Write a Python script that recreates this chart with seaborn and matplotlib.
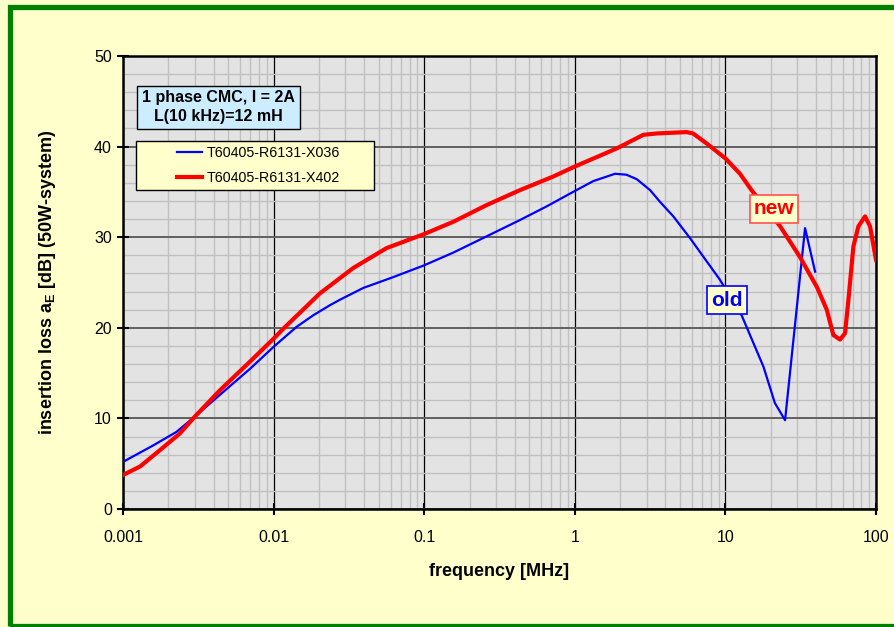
import matplotlib
matplotlib.use('Agg')
import matplotlib.pyplot as plt
from matplotlib.patches import Rectangle
from matplotlib.lines import Line2D
from matplotlib.ticker import LogLocator, MultipleLocator, FixedLocator, NullFormatter
import seaborn as sns
import pandas as pd

# --- DATOS ---
freq_old = [0.001, 0.00158, 0.00226, 0.003, 0.0044, 0.007, 0.01, 0.0142, 0.0184,
            0.0237, 0.0276, 0.0394, 0.0624, 0.1, 0.156, 0.26, 0.433, 0.65, 1.0,
            1.33, 1.85, 2.2, 2.58, 3.16, 3.68, 4.51, 5.82, 9.2, 12.8, 17.9, 21.3,
            24.9, 33.8, 39.4]
loss_old = [5.2, 7.0, 8.5, 10.2, 12.6, 15.5, 17.9, 20.1, 21.4,
            22.5, 23.1, 24.4, 25.6, 26.9, 28.3, 30.1, 31.9, 33.4, 35.1,
            36.2, 37.0, 36.9, 36.4, 35.2, 33.9, 32.3, 29.9, 25.3, 21.4, 15.7, 11.7,
            9.8, 31.0, 26.2]

freq_new = [0.001, 0.0013, 0.00176, 0.00239, 0.003, 0.0044, 0.007, 0.01, 0.0116,
            0.0157, 0.0203, 0.0338, 0.0563, 0.1, 0.156, 0.26, 0.433, 0.72, 1.0,
            1.9, 2.85, 3.5, 5.53, 6.1, 7.5, 10, 12.5, 14.9, 23.1, 31.3, 40.5,
            47.1, 52.1, 57.7, 62.3, 65.6, 70.8, 76.4, 84.6, 91.3, 100]
loss_new = [3.75, 4.7, 6.5, 8.35, 10.2, 13.1, 16.3, 18.8, 19.9,
            22.0, 23.8, 26.6, 28.8, 30.35, 31.7, 33.55, 35.2, 36.7, 37.8,
            39.8, 41.3, 41.45, 41.6, 41.45, 40.35, 38.7, 37.0, 35.2, 31.2, 27.8, 24.5,
            22.0, 19.2, 18.7, 19.4, 23.1, 29.0, 31.2, 32.3, 31.2, 27.5]

label_old = "T60405-R6131-X036"
label_new = "T60405-R6131-X402"
x_ticks = [0.001, 0.01, 0.1, 1, 10, 100]
x_ticklabels = ["0.001", "0.01", "0.1", "1", "10", "100"]
y_ticks = [0, 10, 20, 30, 40, 50]

df_old = pd.DataFrame({'f': freq_old, 'a': loss_old})
df_new = pd.DataFrame({'f': freq_new, 'a': loss_new})

# --- ESTILO ---
plt.rcParams['font.family'] = ['Liberation Sans', 'DejaVu Sans']
plt.rcParams['mathtext.default'] = 'regular'

W, H = 895, 627
fig = plt.figure(figsize=(W / 100, H / 100), dpi=100, facecolor='#FFFFCC')
ax = fig.add_axes([123 / W, 1 - 509 / H, 753 / W, 453 / H])
ax.set_facecolor('#E3E3E3')

# marco verde
fig.patches.append(Rectangle((9.5, 1.5), 900, 618.8, transform=None, fill=False,
                             edgecolor='#008000', linewidth=3.8, zorder=0))

sns.lineplot(data=df_old, x='f', y='a', ax=ax, color='#0000FF', lw=1.6, zorder=5)
sns.lineplot(data=df_new, x='f', y='a', ax=ax, color='#FF0000', lw=3.0, zorder=6)

ax.set_xscale('log')
ax.set_xlim(0.001, 100)
ax.set_ylim(0, 50)
ax.xaxis.set_major_locator(FixedLocator(x_ticks))
ax.set_xticklabels(x_ticklabels)
ax.xaxis.set_minor_locator(LogLocator(base=10, subs=range(2, 10), numticks=50))
ax.xaxis.set_minor_formatter(NullFormatter())
ax.yaxis.set_major_locator(FixedLocator(y_ticks))
ax.yaxis.set_minor_locator(MultipleLocator(2))

ax.grid(which='minor', axis='both', color='#C0C0C0', lw=1.0, zorder=1)
ax.grid(which='major', axis='x', color='#000000', lw=0.9)
ax.grid(which='major', axis='y', color='#606060', lw=1.4)
ax.set_axisbelow(True)

for s in ax.spines.values():
    s.set_linewidth(1.8)
    s.set_color('black')
ax.tick_params(which='major', direction='inout', length=8, width=1.5,
               labelsize=11.5, colors='black')
ax.tick_params(axis='x', which='major', pad=11)
ax.tick_params(axis='y', which='major', pad=4)
ax.tick_params(which='minor', length=0)

ax.set_xlabel("frequency [MHz]", fontsize=13, fontweight='bold', labelpad=13)
ax.set_ylabel("insertion loss a$_{E}$ [dB] (50W-system)", fontsize=13,
              fontweight='bold', labelpad=26)

# cuadro de información
ax.text(0.1268, 0.887, "1 phase CMC, I = 2A\nL(10 kHz)=12 mH", transform=ax.transAxes,
        ha='center', va='center', fontsize=11.5, fontweight='bold', linespacing=1.3,
        bbox=dict(boxstyle='square,pad=0.3', facecolor='#CCECFF', edgecolor='black', lw=1.0),
        zorder=10)

# leyenda
ax.add_patch(Rectangle((13 / 753, (509 - 190) / 453), 238 / 753, 49 / 453,
                       transform=ax.transAxes, facecolor='#FFFFCC', edgecolor='black',
                       lw=1.0, zorder=9))
handles = [Line2D([], [], color='#0000FF', lw=1.6), Line2D([], [], color='#FF0000', lw=3.0)]
leg = ax.legend(handles, [label_old, label_new], frameon=False, loc='center left',
                bbox_to_anchor=(54 / 753, (509 - 165.5) / 453), borderpad=0,
                borderaxespad=0, handlelength=1.75, handletextpad=0.35,
                labelspacing=0.8, fontsize=10.3)
leg.set_zorder(11)

# etiquetas old / new
ax.text((774 - 123) / 753, (509 - 209) / 453, "new", transform=ax.transAxes,
        ha='center', va='center', fontsize=15, fontweight='bold', color='#FF0000',
        bbox=dict(boxstyle='square,pad=0.2', facecolor='#FFFFCC', edgecolor='#FF5050', lw=1.2),
        zorder=12)
ax.text((727 - 123) / 753, (509 - 300) / 453, "old", transform=ax.transAxes,
        ha='center', va='center', fontsize=15, fontweight='bold', color='#0000FF',
        bbox=dict(boxstyle='square,pad=0.2', facecolor='#FFFFCC', edgecolor='#0000FF', lw=1.2),
        zorder=12)

fig.savefig("out.png", dpi=100, facecolor=fig.get_facecolor())
plt.close()
